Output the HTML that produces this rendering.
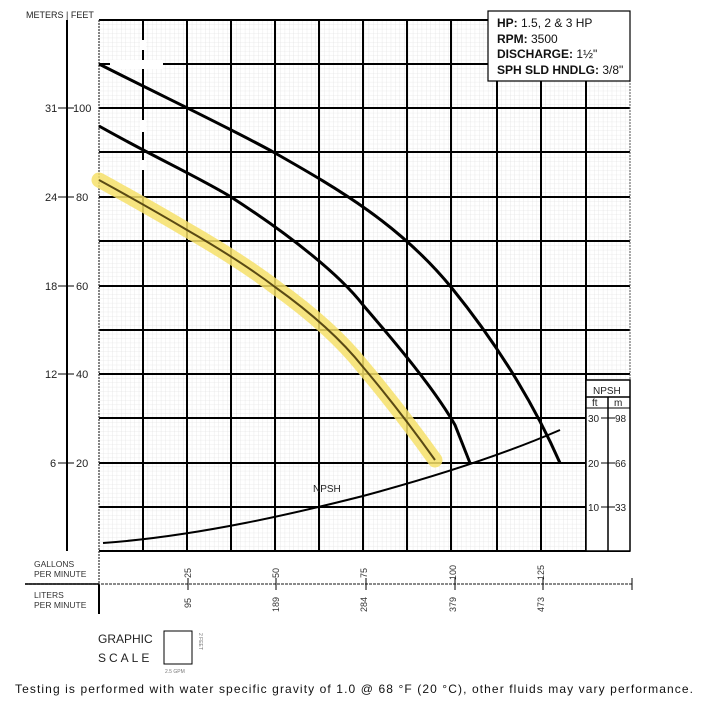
<!DOCTYPE html>
<html><head><style>
body{margin:0;background:#fff;}
svg text{font-family:"Liberation Sans",sans-serif;}
</style></head><body>
<svg width="704" height="714" viewBox="0 0 704 714" xmlns="http://www.w3.org/2000/svg">
<defs>
<pattern id="mg" x="99" y="20" width="4.42" height="4.42" patternUnits="userSpaceOnUse">
<path d="M0 0H4.42M0 0V4.42" stroke="#dcdcdc" stroke-width="0.6" fill="none"/>
</pattern>
</defs>
<rect x="99" y="20" width="531" height="531" fill="url(#mg)"/>
<g stroke="#000" stroke-width="2">
<line x1="143" y1="20" x2="143" y2="551"/><line x1="187" y1="20" x2="187" y2="551"/>
<line x1="231" y1="20" x2="231" y2="551"/><line x1="275" y1="20" x2="275" y2="551"/>
<line x1="319" y1="20" x2="319" y2="551"/><line x1="363" y1="20" x2="363" y2="551"/>
<line x1="407" y1="20" x2="407" y2="551"/><line x1="451" y1="20" x2="451" y2="551"/>
<line x1="497" y1="20" x2="497" y2="551"/><line x1="541" y1="20" x2="541" y2="551"/>
<line x1="586" y1="20" x2="586" y2="551"/><line x1="608" y1="397" x2="608" y2="551"/>
<line x1="99" y1="20" x2="630" y2="20"/>
<line x1="99" y1="64" x2="630" y2="64"/><line x1="99" y1="108" x2="630" y2="108"/>
<line x1="99" y1="152" x2="630" y2="152"/><line x1="99" y1="197" x2="630" y2="197"/>
<line x1="99" y1="241" x2="630" y2="241"/><line x1="99" y1="286" x2="630" y2="286"/>
<line x1="99" y1="330" x2="630" y2="330"/><line x1="99" y1="374" x2="630" y2="374"/>
<line x1="99" y1="418" x2="630" y2="418"/><line x1="99" y1="463" x2="630" y2="463"/>
<line x1="99" y1="507" x2="630" y2="507"/><line x1="99" y1="551" x2="630" y2="551"/>
<line x1="67" y1="20" x2="67" y2="551"/>
</g>
<line x1="630" y1="20" x2="630" y2="551" stroke="#555" stroke-width="1" stroke-dasharray="2 1"/>
<line x1="99" y1="20" x2="99" y2="584" stroke="#333" stroke-width="1.2" stroke-dasharray="2 1"/>
<line x1="99" y1="584" x2="99" y2="614" stroke="#000" stroke-width="2"/>
<rect x="110" y="60" width="53" height="9" fill="#fff"/>
<rect x="140" y="40" width="6" height="10" fill="#fff"/>
<rect x="140" y="120" width="6" height="12" fill="#fff"/>
<rect x="140" y="160" width="6" height="10" fill="#fff"/>
<text x="26" y="18" font-size="9" fill="#222">METERS | FEET</text>
<g font-size="11" fill="#222">
<text x="45" y="112">31</text><text x="73" y="112">100</text>
<text x="45" y="201">24</text><text x="76" y="201">80</text>
<text x="45" y="290">18</text><text x="76" y="290">60</text>
<text x="45" y="378">12</text><text x="76" y="378">40</text>
<text x="50" y="467">6</text><text x="76" y="467">20</text>
</g>
<g stroke="#000" stroke-width="1"><line x1="58" y1="108" x2="74" y2="108"/><line x1="58" y1="197" x2="74" y2="197"/><line x1="58" y1="286" x2="74" y2="286"/><line x1="58" y1="374" x2="74" y2="374"/><line x1="58" y1="463" x2="74" y2="463"/></g>
<path d="M99,180 C130,197 160,214 187,230 C220,249 250,268 275,287 C310,312 340,338 363,367 C385,393 410,425 435,460" fill="none" stroke="#f6e06a" stroke-width="15" stroke-linecap="round" stroke-linejoin="round" opacity="0.85"/>
<path d="M99,180 C130,197 160,214 187,230 C220,249 250,268 275,287 C310,312 340,338 363,367 C385,393 410,425 435,460" fill="none" stroke="#5a4a14" stroke-width="2"/>
<path d="M99,64 C160,95 230,128 275,153 C340,190 400,225 451,287 C490,335 530,395 560,463" fill="none" stroke="#000" stroke-width="3"/>
<path d="M99,126 C150,155 200,178 231,197 C290,235 340,275 363,305 C400,348 435,390 455,425 L470,463" fill="none" stroke="#000" stroke-width="3"/>
<path d="M103,543 C200,536 300,512 363,496 C430,478 500,456 560,430" fill="none" stroke="#000" stroke-width="2"/>
<text x="313" y="492" font-size="10" fill="#222">NPSH</text>
<rect x="488" y="11" width="142" height="70" fill="#fff" stroke="#000" stroke-width="1.2"/>
<g font-size="12" fill="#111">
<text x="497" y="27"><tspan font-weight="bold">HP:</tspan>  1.5, 2 &amp; 3 HP</text>
<text x="497" y="43"><tspan font-weight="bold">RPM:</tspan> 3500</text>
<text x="497" y="58"><tspan font-weight="bold">DISCHARGE:</tspan> 1½"</text>
<text x="497" y="74"><tspan font-weight="bold">SPH SLD HNDLG:</tspan> 3/8"</text>
</g>
<rect x="586" y="380" width="44" height="171" fill="#fff" stroke="#000" stroke-width="1.5"/>
<line x1="586" y1="397" x2="630" y2="397" stroke="#000" stroke-width="1.5"/>
<line x1="586" y1="408" x2="630" y2="408" stroke="#000" stroke-width="1"/>
<line x1="608" y1="397" x2="608" y2="551" stroke="#000" stroke-width="1.5"/>
<g font-size="10" fill="#222">
<text x="593" y="394">NPSH</text><text x="592" y="406">ft</text><text x="614" y="406">m</text>
<text x="588" y="422">30</text><text x="615" y="422">98</text>
<text x="588" y="467">20</text><text x="615" y="467">66</text>
<text x="588" y="511">10</text><text x="615" y="511">33</text>
</g>
<g stroke="#000" stroke-width="1"><line x1="601" y1="418" x2="615" y2="418"/><line x1="601" y1="463" x2="615" y2="463"/><line x1="601" y1="507" x2="615" y2="507"/></g>
<line x1="25" y1="584" x2="632" y2="584" stroke="#444" stroke-width="1.2" stroke-dasharray="3 1"/>
<line x1="25" y1="584" x2="99" y2="584" stroke="#000" stroke-width="1.5"/>
<g font-size="8.5" fill="#333">
<text x="34" y="567">GALLONS</text><text x="34" y="577">PER MINUTE</text>
<text x="34" y="598">LITERS</text><text x="34" y="608">PER MINUTE</text>
</g>
<g font-size="9" fill="#333">
<text transform="translate(191,578) rotate(-90)">25</text>
<text transform="translate(279,578) rotate(-90)">50</text>
<text transform="translate(367,578) rotate(-90)">75</text>
<text transform="translate(456,580) rotate(-90)">100</text>
<text transform="translate(544,580) rotate(-90)">125</text>
<text transform="translate(191,608) rotate(-90)">95</text>
<text transform="translate(279,612) rotate(-90)">189</text>
<text transform="translate(367,612) rotate(-90)">284</text>
<text transform="translate(456,612) rotate(-90)">379</text>
<text transform="translate(544,612) rotate(-90)">473</text>
</g>
<g stroke="#000" stroke-width="1"><line x1="188" y1="578" x2="188" y2="590"/><line x1="276" y1="578" x2="276" y2="590"/><line x1="366" y1="578" x2="366" y2="590"/><line x1="455" y1="578" x2="455" y2="590"/><line x1="543" y1="578" x2="543" y2="590"/><line x1="632" y1="578" x2="632" y2="590"/></g>
<text x="98" y="643" font-size="12" fill="#222">GRAPHIC</text>
<text x="98" y="662" font-size="12" fill="#222" letter-spacing="3">SCALE</text>
<rect x="164" y="631" width="28" height="33" fill="#fff" stroke="#000" stroke-width="1"/>
<text x="165" y="673" font-size="5" fill="#777">2.5 GPM</text>
<text transform="translate(199,633) rotate(90)" font-size="5" fill="#777">2 FEET</text>
<text x="15" y="693" font-size="12" fill="#111" textLength="678" lengthAdjust="spacing">Testing is performed with water specific gravity of 1.0 @ 68 °F (20 °C), other fluids may vary performance.</text>
</svg>
</body></html>
